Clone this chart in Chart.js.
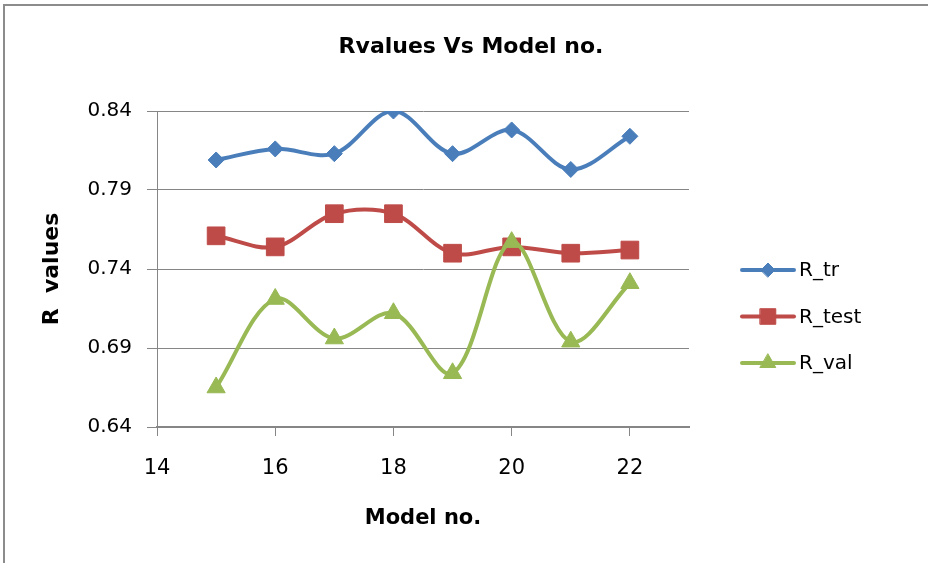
<!DOCTYPE html>
<html>
<head>
<meta charset="utf-8">
<title>Rvalues Vs Model no.</title>
<script src="https://cdn.jsdelivr.net/npm/chart.js@4.4.1/dist/chart.umd.min.js"></script>
<style>
  html, body { margin: 0; padding: 0; background: #ffffff; }
  canvas { display: block; }
</style>
</head>
<body>
<canvas id="chart" width="928" height="563"></canvas>
<script>
// Model numbers on the x axis
const modelNo = [15, 16, 17, 18, 19, 20, 21, 22];
// Correlation coefficients per model
const rTr   = [0.809, 0.816, 0.813, 0.840, 0.813, 0.828, 0.803, 0.824];
const rTest = [0.761, 0.754, 0.775, 0.775, 0.750, 0.754, 0.750, 0.752];
const rVal  = [0.665, 0.721, 0.696, 0.712, 0.674, 0.757, 0.694, 0.731];
// Series names
const seriesNames = ['R_tr', 'R_test', 'R_val'];

const GRID = '#868686';
const BLUE = '#4A7EBB', RED = '#BE4B48', GREEN = '#98B954';

Chart.defaults.font.family = "'DejaVu Sans', sans-serif";
Chart.defaults.color = '#000000';

const toPoints = ys => modelNo.map((x, i) => ({ x: x, y: ys[i] }));

// Outer frame (top and left edges of the chart border)
const framePlugin = {
  id: 'frame',
  beforeDraw(chart) {
    const ctx = chart.ctx;
    ctx.save();
    ctx.fillStyle = '#ffffff';
    ctx.fillRect(0, 0, chart.width, chart.height);
    ctx.strokeStyle = '#8c8c8c';
    ctx.lineWidth = 2;
    ctx.beginPath();
    ctx.moveTo(4, chart.height);
    ctx.lineTo(4, 5);
    ctx.lineTo(chart.width, 5);
    ctx.stroke();
    ctx.restore();
  }
};

// Legend with a line sample and the series marker
const legendPlugin = {
  id: 'lineLegend',
  afterDraw(chart) {
    const ctx = chart.ctx;
    const area = chart.chartArea;
    const x0 = area.right + 53, x1 = area.right + 105;
    const yStart = 270, step = 46.5;
    ctx.save();
    chart.data.datasets.forEach((ds, i) => {
      const y = yStart + i * step;
      ctx.strokeStyle = ds.borderColor;
      ctx.lineWidth = 4;
      ctx.lineCap = 'round';
      ctx.beginPath();
      ctx.moveTo(x0, y);
      ctx.lineTo(x1, y);
      ctx.stroke();
      ctx.fillStyle = ds.pointBackgroundColor;
      ctx.strokeStyle = ds.pointBorderColor;
      ctx.lineWidth = 1;
      Chart.helpers.drawPoint(ctx, {
        pointStyle: ds.pointStyle,
        radius: ds.legendRadius,
        rotation: 0,
        borderWidth: 1
      }, (x0 + x1) / 2, y);
      ctx.fillStyle = '#000000';
      ctx.font = "20px 'DejaVu Sans', sans-serif";
      ctx.textAlign = 'left';
      ctx.textBaseline = 'middle';
      ctx.fillText(ds.label, x1 + 5, y + 1);
    });
    ctx.restore();
  }
};

function series(label, ys, color, style, radius, legendRadius, order) {
  return {
    label: label,
    data: toPoints(ys),
    borderColor: color,
    backgroundColor: color,
    borderWidth: 4,
    tension: 0.34,
    pointStyle: style,
    pointRadius: radius,
    pointHoverRadius: radius,
    pointBackgroundColor: color,
    pointBorderColor: color,
    pointBorderWidth: 1,
    legendRadius: legendRadius,
    order: order,
    fill: false
  };
}

new Chart(document.getElementById('chart'), {
  type: 'line',
  data: {
    datasets: [
      series(seriesNames[0], rTr, BLUE, 'rectRot', 8, 7, 2),
      series(seriesNames[1], rTest, RED, 'rect', 12.5, 11, 1),
      series(seriesNames[2], rVal, GREEN, 'triangle', 10.5, 9, 0)
    ]
  },
  options: {
    responsive: false,
    devicePixelRatio: 1,
    animation: false,
    layout: { padding: { left: 14, right: 0, top: 0, bottom: 0 } },
    plugins: {
      legend: { display: false },
      tooltip: { enabled: false },
      title: {
        display: true,
        text: 'Rvalues Vs Model no.',
        color: '#000000',
        font: { size: 22, weight: 'bold', lineHeight: 1.2 },
        padding: { top: 33.8, bottom: 50.8 }
      }
    },
    scales: {
      x: {
        type: 'linear',
        min: 14,
        max: 23,
        ticks: {
          stepSize: 2,
          includeBounds: false,
          font: { size: 21 },
          color: '#000000',
          padding: 20
        },
        grid: {
          display: true,
          drawOnChartArea: false,
          drawTicks: true,
          tickLength: 9,
          color: GRID,
          lineWidth: 1
        },
        border: { display: true, color: GRID, width: 2 },
        title: {
          display: true,
          text: 'Model no.',
          color: '#000000',
          font: { size: 21, weight: 'bold', lineHeight: 1.2 },
          padding: { top: 0, bottom: 31.4 }
        },
        afterFit(scale) { scale.height = 136; }
      },
      y: {
        type: 'linear',
        position: 'left',
        min: 0.64,
        max: 0.84,
        ticks: {
          stepSize: 0.05,
          font: { size: 20 },
          color: '#000000',
          padding: 15,
          callback: v => v.toFixed(2)
        },
        grid: {
          display: true,
          drawOnChartArea: true,
          drawTicks: true,
          tickLength: 10,
          color: GRID,
          lineWidth: 1
        },
        border: { display: true, color: GRID, width: 1 },
        title: {
          display: true,
          text: 'R  values',
          color: '#000000',
          font: { size: 22, weight: 'bold', lineHeight: 1.2 },
          padding: { top: 24.8, bottom: 0 }
        },
        afterFit(scale) { scale.width = 143; }
      },
      legendSpace: {
        type: 'linear',
        position: 'right',
        display: true,
        grid: { display: false },
        border: { display: false },
        ticks: { display: false },
        afterFit(scale) { scale.width = 239; }
      }
    }
  },
  plugins: [framePlugin, legendPlugin]
});
</script>
</body>
</html>
